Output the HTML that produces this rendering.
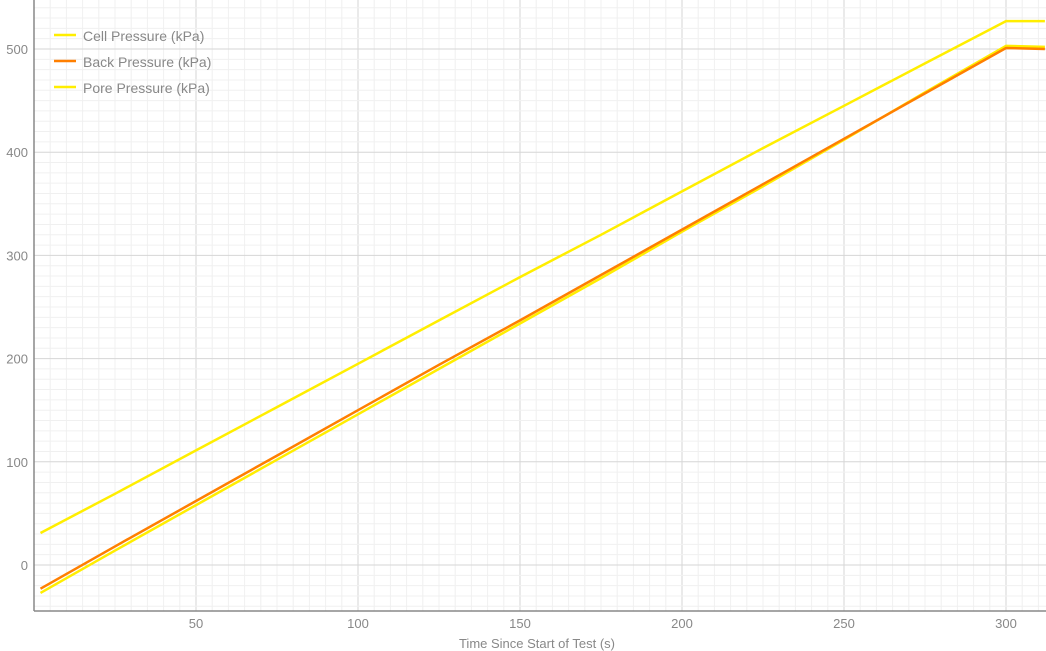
<!DOCTYPE html>
<html><head><meta charset="utf-8"><style>
html,body{margin:0;padding:0;background:#fff;}
svg{display:block;font-family:"Liberation Sans",sans-serif;}
</style></head><body>
<svg id="chart" width="1046" height="651"></svg>
<script>
const times = [2,25,50,75,100,125,150,175,200,225,250,275,300,312];
const cellPressure = [31,69,111,153,195,237,279,320,362,404,445,486,527,527];
const backPressure = [-23,18,62,106,150,194,237,281,325,369,413,457,501,500];
const porePressure = [-27,14,58,102,146,190,234,278,323,367,412,458,503,502];
const xTicks = [50,100,150,200,250,300];
const yTicks = [0,100,200,300,400,500];

const L=34,R=1046,T=0,B=611;
const x0=34, xs=3.24, y0=565, ys=1.032;
const X=t=>x0+t*xs, Y=v=>y0-v*ys;
const NS='http://www.w3.org/2000/svg';
const svg=document.getElementById('chart');
function mk(tag,attrs){const e=document.createElementNS(NS,tag);for(const k in attrs)e.setAttribute(k,attrs[k]);svg.appendChild(e);return e;}

for(let t=5;X(t)<R;t+=5){const e=mk('line',{x1:X(t),x2:X(t),y1:T,y2:B,stroke:t%50===0?'#d6d6d6':'#f0f0f0','stroke-width':1});

}
for(let v=-40;Y(v)>T;v+=10){const e=mk('line',{x1:L,x2:R,y1:Y(v),y2:Y(v),stroke:v%100===0?'#d6d6d6':'#f0f0f0','stroke-width':1});

}

let ax=mk('line',{x1:L,x2:L,y1:T,y2:B,stroke:'#888','stroke-width':1.5});


ax=mk('line',{x1:L,x2:R,y1:B,y2:B,stroke:'#888','stroke-width':1.5});



xTicks.forEach(t=>{const e=mk('text',{x:X(t),y:628,'text-anchor':'middle','font-size':13,fill:'#888'});e.textContent=t;

});
yTicks.forEach(v=>{const e=mk('text',{x:28,y:Y(v)+5,'text-anchor':'end','font-size':13,fill:'#888'});e.textContent=v;

});
let xt=mk('text',{x:537,y:648,'text-anchor':'middle','font-size':13,fill:'#888'});xt.textContent='Time Since Start of Test (s)';



function series(vals,color,name){
  const d=vals.map((v,i)=>(i?'L':'M')+X(times[i]).toFixed(1)+','+Y(v).toFixed(1)).join(' ');
  const p=mk('path',{d:d,fill:'none',stroke:color,'stroke-width':2.5});
  
  
}
series(cellPressure,'#ffee00','cell-pressure-line');
series(porePressure,'#ffee00','pore-pressure-line');
series(backPressure,'#ff7f00','back-pressure-line');

const legend=[['Cell Pressure (kPa)','#ffee00'],['Back Pressure (kPa)','#ff7f00'],['Pore Pressure (kPa)','#ffee00']];
legend.forEach((l,i)=>{const y=35+i*26;
  const ln=mk('line',{x1:54,x2:76,y1:y,y2:y,stroke:l[1],'stroke-width':2.5});
  
  
  const t=mk('text',{x:83,y:y+6,'font-size':14,fill:'#888'});t.textContent=l[0];
  
  
});
</script>
</body></html>
